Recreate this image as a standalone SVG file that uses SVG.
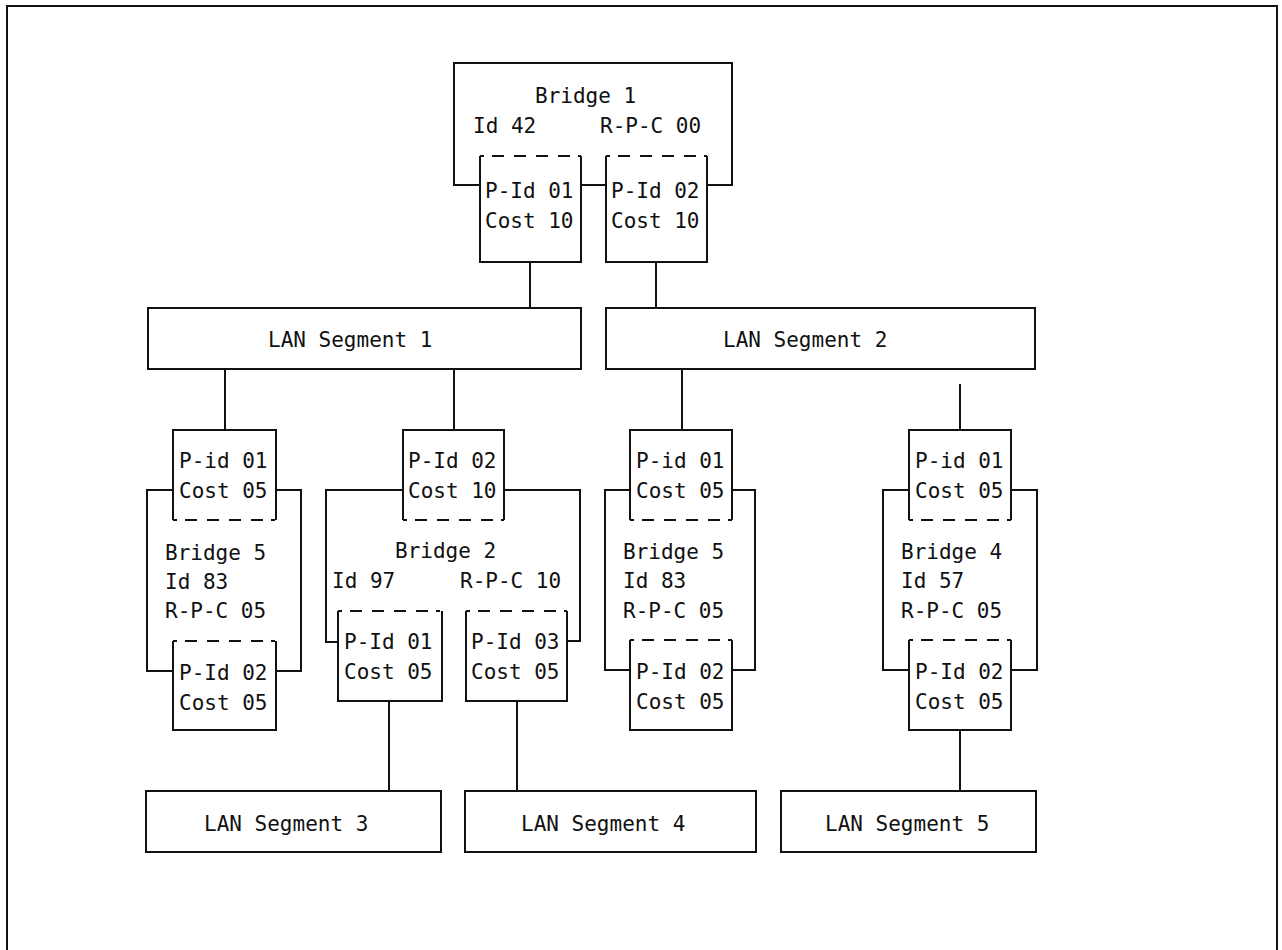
<svg xmlns="http://www.w3.org/2000/svg" width="1282" height="950" viewBox="0 0 1282 950">
<style>
  .ln { fill: none; stroke: #111; stroke-width: 2; }
  .dash { fill: none; stroke: #111; stroke-width: 2; stroke-dasharray: 4 8 12 10 12 10 12 10 12 8 4 100; }
  .box { fill: #fff; stroke: #111; stroke-width: 2; }
  .t { font-family: "DejaVu Sans Mono", "Liberation Mono", monospace; font-size: 21px; fill: #111; }
</style>
<rect x="0" y="0" width="1282" height="950" fill="#fff"/>
<rect id="frame" x="7" y="6" width="1270" height="970" class="ln"/>

<g id="connectors">
  <line x1="530" y1="262" x2="530" y2="308" class="ln"/>
  <line x1="656" y1="262" x2="656" y2="308" class="ln"/>
  <line x1="225" y1="369" x2="225" y2="430" class="ln"/>
  <line x1="454" y1="369" x2="454" y2="430" class="ln"/>
  <line x1="682" y1="369" x2="682" y2="430" class="ln"/>
  <line x1="960" y1="384" x2="960" y2="430" class="ln"/>
  <line x1="389" y1="701" x2="389" y2="791" class="ln"/>
  <line x1="517" y1="701" x2="517" y2="791" class="ln"/>
  <line x1="960" y1="730" x2="960" y2="791" class="ln"/>
</g>

<g id="bridge1">
  <path d="M480,185 H454 V63 H732 V185 H707 M581,185 H606" class="ln"/>
  <text x="535" y="103" class="t">Bridge 1</text>
  <text x="473" y="133" class="t">Id 42</text>
  <text x="600" y="133" class="t">R-P-C 00</text>
  <g id="b1p1">
    <path d="M480,156 V262 H581 V156" class="ln"/>
    <path d="M480,156 H581" class="dash"/>
    <text x="485" y="198" class="t">P-Id 01</text>
    <text x="485" y="228" class="t">Cost 10</text>
  </g>
  <g id="b1p2">
    <path d="M606,156 V262 H707 V156" class="ln"/>
    <path d="M606,156 H707" class="dash"/>
    <text x="611" y="198" class="t">P-Id 02</text>
    <text x="611" y="228" class="t">Cost 10</text>
  </g>
</g>

<g id="lan1">
  <rect x="148" y="308" width="433" height="61" class="box"/>
  <text x="268" y="347" class="t">LAN Segment 1</text>
</g>
<g id="lan2">
  <rect x="606" y="308" width="429" height="61" class="box"/>
  <text x="723" y="347" class="t">LAN Segment 2</text>
</g>

<g id="bridge5a">
  <path d="M173,490 H147 V671 H173 M276,490 H301 V671 H276" class="ln"/>
  <text x="165" y="560" class="t">Bridge 5</text>
  <text x="165" y="589" class="t">Id 83</text>
  <text x="165" y="618" class="t">R-P-C 05</text>
  <g id="b5ap1">
    <path d="M173,520 V430 H276 V520" class="ln"/>
    <path d="M173,520 H276" class="dash"/>
    <text x="179" y="468" class="t">P-id 01</text>
    <text x="179" y="498" class="t">Cost 05</text>
  </g>
  <g id="b5ap2">
    <path d="M173,641 V730 H276 V641" class="ln"/>
    <path d="M173,641 H276" class="dash"/>
    <text x="179" y="680" class="t">P-Id 02</text>
    <text x="179" y="710" class="t">Cost 05</text>
  </g>
</g>

<g id="bridge2">
  <path d="M403,490 H326 V642 H338 M504,490 H580 V641 H567" class="ln"/>
  <text x="395" y="558" class="t">Bridge 2</text>
  <text x="332" y="588" class="t">Id 97</text>
  <text x="460" y="588" class="t">R-P-C 10</text>
  <g id="b2p2">
    <path d="M403,520 V430 H504 V520" class="ln"/>
    <path d="M403,520 H504" class="dash"/>
    <text x="408" y="468" class="t">P-Id 02</text>
    <text x="408" y="498" class="t">Cost 10</text>
  </g>
  <g id="b2p1">
    <path d="M338,611 V701 H442 V611" class="ln"/>
    <path d="M338,611 H442" class="dash"/>
    <text x="344" y="649" class="t">P-Id 01</text>
    <text x="344" y="679" class="t">Cost 05</text>
  </g>
  <g id="b2p3">
    <path d="M466,611 V701 H567 V611" class="ln"/>
    <path d="M466,611 H567" class="dash"/>
    <text x="471" y="649" class="t">P-Id 03</text>
    <text x="471" y="679" class="t">Cost 05</text>
  </g>
</g>

<g id="bridge5b">
  <path d="M630,490 H605 V670 H630 M732,490 H755 V670 H732" class="ln"/>
  <text x="623" y="559" class="t">Bridge 5</text>
  <text x="623" y="588" class="t">Id 83</text>
  <text x="623" y="618" class="t">R-P-C 05</text>
  <g id="b5bp1">
    <path d="M630,520 V430 H732 V520" class="ln"/>
    <path d="M630,520 H732" class="dash"/>
    <text x="636" y="468" class="t">P-id 01</text>
    <text x="636" y="498" class="t">Cost 05</text>
  </g>
  <g id="b5bp2">
    <path d="M630,640 V730 H732 V640" class="ln"/>
    <path d="M630,640 H732" class="dash"/>
    <text x="636" y="679" class="t">P-Id 02</text>
    <text x="636" y="709" class="t">Cost 05</text>
  </g>
</g>

<g id="bridge4">
  <path d="M909,490 H883 V670 H909 M1011,490 H1037 V670 H1011" class="ln"/>
  <text x="901" y="559" class="t">Bridge 4</text>
  <text x="901" y="588" class="t">Id 57</text>
  <text x="901" y="618" class="t">R-P-C 05</text>
  <g id="b4p1">
    <path d="M909,520 V430 H1011 V520" class="ln"/>
    <path d="M909,520 H1011" class="dash"/>
    <text x="915" y="468" class="t">P-id 01</text>
    <text x="915" y="498" class="t">Cost 05</text>
  </g>
  <g id="b4p2">
    <path d="M909,640 V730 H1011 V640" class="ln"/>
    <path d="M909,640 H1011" class="dash"/>
    <text x="915" y="679" class="t">P-Id 02</text>
    <text x="915" y="709" class="t">Cost 05</text>
  </g>
</g>

<g id="lan3">
  <rect x="146" y="791" width="295" height="61" class="box"/>
  <text x="204" y="831" class="t">LAN Segment 3</text>
</g>
<g id="lan4">
  <rect x="465" y="791" width="291" height="61" class="box"/>
  <text x="521" y="831" class="t">LAN Segment 4</text>
</g>
<g id="lan5">
  <rect x="781" y="791" width="255" height="61" class="box"/>
  <text x="825" y="831" class="t">LAN Segment 5</text>
</g>
</svg>
